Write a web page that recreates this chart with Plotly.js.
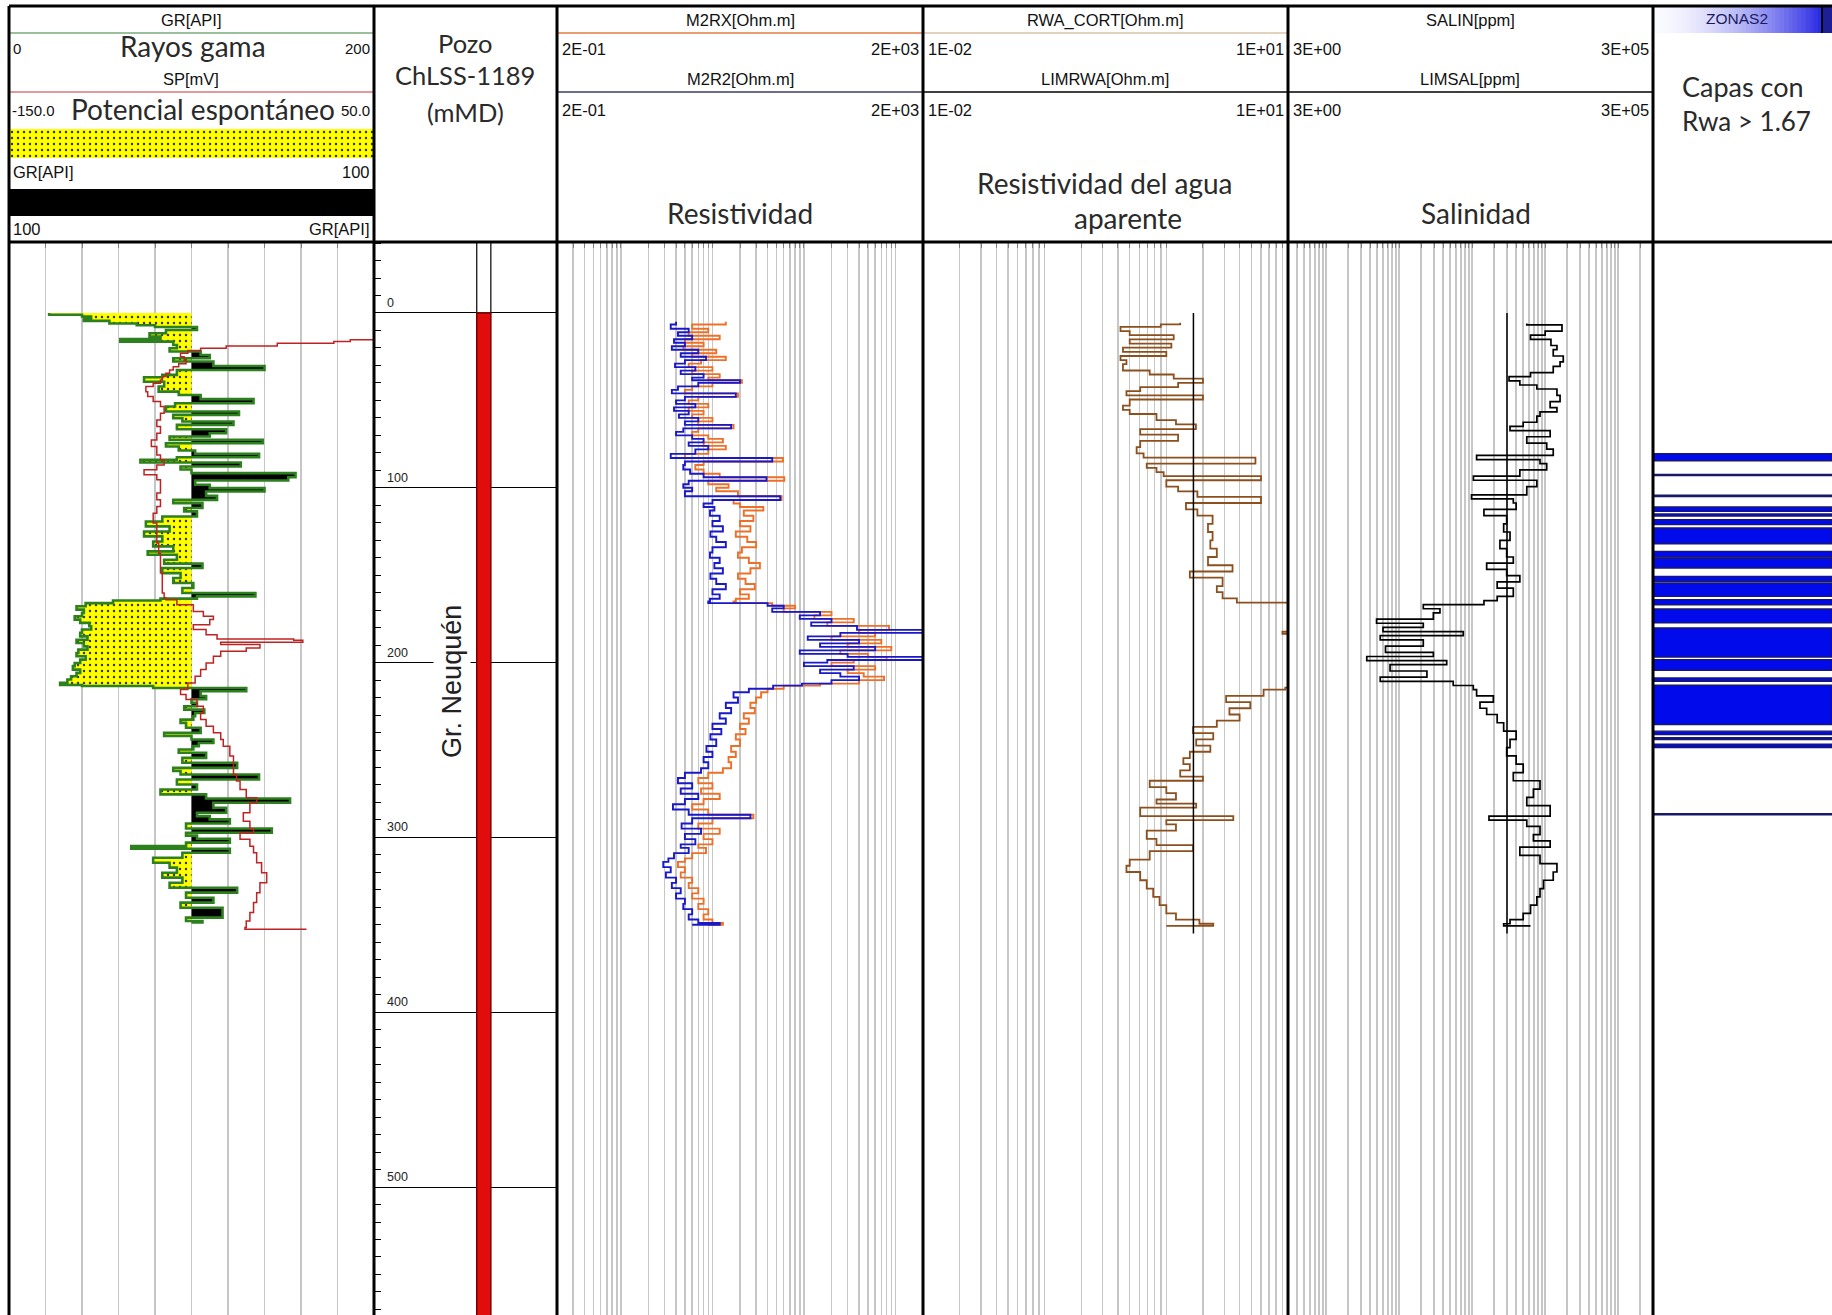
<!DOCTYPE html>
<html><head><meta charset="utf-8">
<script src="https://cdn.plot.ly/plotly-3.0.1.min.js"></script>
<style>html,body{margin:0;padding:0;background:#fff;}#chart{width:1832px;height:1315px;}</style>
</head><body><div id="chart"></div>
<script>
// ---------------- DATA ----------------
// GR [API] : [depth mMD, value]
const grLog = [[0,22],[1,40],[2,45],[3,41],[4.5,55],[6,70],[7,80],[8,103],[9.7,86],[11.6,77],[13.5,83],[14.9,61],[16.4,90],[18.3,92],[20.2,88],[22,105],[24,110],[25.9,90],[27.8,112],[30.3,140],[32.6,92],[35.4,84],[36.8,74],[39.3,85],[42.1,82],[45,93],[46.9,105],[49.3,134],[51.6,91],[53.5,86],[56.4,126],[58.3,90],[60.2,95],[62.1,123],[64,92],[66.5,119],[68.8,110],[70.7,88],[72.6,139],[74.5,86],[76.4,93],[78.7,102],[80.6,137],[82.5,92],[84,72],[85.5,127],[87.8,94],[89.5,100],[91.6,157],[94,153],[95.8,102],[98.3,110],[100.2,140],[102.1,108],[104.6,114],[106.9,90],[108.8,106],[111.6,96],[113.5,103],[116.4,84],[119.3,75],[122.1,88],[125,74],[127.8,84],[130.7,79],[133.5,90],[136.4,76],[138.3,92],[141.2,85],[143.4,106],[145.9,84],[148.8,94],[151.6,90],[154.5,101],[157.3,95],[160.2,135],[162.1,103],[163.4,83],[164.5,57],[166,42],[167.8,37],[169.7,41],[171.6,40],[173.5,36],[175.4,39],[177.3,44],[179.2,45],[181.1,40],[183,39],[185,43],[186.9,37],[188.8,41],[190.7,43],[192.6,38],[194.5,37],[196.4,42],[198.3,39],[200.2,36],[202,35],[204,39],[205.9,37],[207.8,34],[209.7,32],[211.6,28],[212.8,40],[213.4,79],[214.5,130],[216.4,105],[219.2,108],[221,100],[223,103],[225,96],[226.9,107],[228.8,102],[230.7,101],[232.6,94],[234.5,97],[237.3,105],[240.2,85],[242,100],[244,112],[246,104],[247.8,101],[249.7,93],[251.6,108],[254.5,95],[257.3,125],[260.2,90],[262,94],[264,137],[266.9,92],[269.7,103],[272.6,83],[275.4,108],[277.7,154],[280.2,112],[283,119],[285.9,103],[287.8,110],[289.7,121],[292,97],[294.9,144],[297.3,97],[299,103],[300.8,121],[303,97],[305,67],[306.5,121],[308.8,95],[311.6,79],[314.5,88],[317.3,92],[320.2,84],[323,95],[325.9,88],[328.8,125],[331.6,97],[334.5,112],[337.3,94],[340.2,117],[343,117],[345.9,97],[347.8,106],[348.6,100]];
// SP [mV]
const spLog = [[14.4,52],[15.3,37],[16.3,28],[17.3,-3],[18.9,-31],[20.2,-45],[21.5,-52],[23,-56],[25,-54],[27,-53],[29,-57],[30.7,-60],[32.6,-62],[34.5,-64],[36.4,-66],[38.3,-67],[40.2,-71],[42.1,-75],[45,-74],[47.8,-71],[50.7,-67],[53.5,-65],[57.3,-67],[61.2,-69],[65,-67],[68.8,-69],[72.6,-72],[76.4,-69],[81.2,-67],[84,-65],[86.9,-69],[89.7,-76],[92.6,-69],[95.4,-67],[99.3,-67],[103,-69],[106.9,-67],[110.7,-69],[114.5,-71],[120.2,-69],[125.9,-69],[131.6,-68],[137.4,-67],[143.1,-67],[148.8,-66],[154.5,-66],[160.2,-65],[163.1,-64],[164,-58],[166.9,-49],[170.7,-43.5],[173.5,-38],[175.4,-40],[178.3,-49],[181.1,-42],[184,-36],[186.5,6],[187.2,11],[188.4,-34],[189.7,-12.5],[191.6,-20],[193.5,-34],[196.4,-38],[200.2,-42],[204,-45],[207.8,-48],[211.6,-52],[215.4,-56],[218.3,-53],[221.1,-47],[225,-43.5],[228.8,-45],[232.6,-42],[236.4,-38],[240.2,-34],[244,-32.6],[247.8,-29],[253.5,-27],[259.2,-27],[264,-25.3],[267.8,-23.4],[272.6,-20],[277.3,-14.3],[280.2,-18],[285.9,-21.6],[290.7,-18],[295.4,-16],[297.3,-23.4],[301.1,-18],[305,-16],[308.8,-14.3],[314.5,-11.6],[320.2,-8.8],[325.9,-12.5],[331.6,-14.3],[337.3,-16],[343,-18],[347.8,-20],[351.6,-20.7],[352.6,13]];
// Resistivity [Ohm.m] : [depth, M2RX, M2R2]
const resLog = [[5,14,4.0],[6.6,6,3.5],[9,9,5.5],[11,5.5,4.2],[13,12,6],[15,5,3.8],[17,8,5],[19,4.8,3.6],[21,11,7],[23,6,4.5],[25,14,8.5],[27,7.5,5],[29,5.5,3.9],[31,10,6.5],[33,6,4.5],[35,12,8],[37,9,6],[38.5,21,20],[40,10,7],[42,6,4.2],[44,5,3.6],[46,19,18],[48,7,5],[50,5.5,4],[52,9,6.5],[54,5.5,3.8],[56,8,5.5],[58,6,4.3],[60,10,7],[62,7,5],[64,17,16],[66,7,4.8],[68,6,4],[70,9,6],[72,13,8],[74,8,5.5],[76,14,9],[78,9,6.5],[80.6,5,3.5],[83,59,45],[85,8,5],[87,6.5,4.8],[89.5,8,5.7],[92,12,8],[94,61,39],[96,9,5.5],[98,15,4.8],[100,11,6],[102,19,5],[104.8,57,55],[107,17,10],[109,20,8],[111,36,10.5],[113,22,9.4],[116,28,12],[119,20,10],[122,26,13],[125,18,9.5],[128,24,11],[131,30,14],[134,21,10],[137,19,9.4],[140,25,12],[143,33,10.5],[146,26,13],[149,19,9.5],[152,23,11],[155,29,14],[158,20,10],[161,25,12],[163.5,18,9.4],[165,17,9],[166,45,40],[167.5,80,60],[169,60,45],[171,200,150],[173,130,90],[175,350,200],[177,180,120],[179,850,380],[181.3,400,3000],[183,600,250],[185,200,110],[187,700,400],[189,300,150],[191,900,600],[193,250,90],[195,500,300],[196.7,800,3000],[198.5,350,180],[200,200,100],[202,600,350],[204,300,150],[206,450,250],[208,750,400],[210,400,200],[212,150,95],[213.2,60,46],[215,40,25],[217,34,17],[220,30,19],[223,26,14],[226,29,16],[229,22,12],[232,25,14],[235,20,10],[238,23,12.5],[241,18,9.5],[244,20,11],[247.7,16,8.6],[251,18,10],[254,15,8],[257,16,9],[260.4,13,7.5],[263,9,5],[266,7,4.2],[269,10,6],[272,7.5,4.5],[275,12,7],[278,8,5],[281,6,3.7],[284,9,5.5],[287,28,26],[289,10,6],[292,7,4.6],[295,12,7.5],[298,8,5],[301,10,6.5],[304,7,4.5],[306,8.5,5.5],[309,6,3.8],[312,5,3.3],[314,4.2,2.9],[317,5,3.5],[320,4.5,3.1],[323,6,4],[326,5.5,3.6],[329,7,4.5],[332,6,4],[335,8,5],[338,7,4.8],[341,9,6],[344,8,5.5],[347,10,7],[349,13,12],[350,9,6]];
// RWA_CORT [Ohm.m]
const rwaLog = [[5.6,1.3],[6.5,0.9],[8,0.42],[10.4,0.5],[12.7,1.15],[15.1,0.5],[17.5,1.1],[19.8,0.44],[22.2,1.0],[24.6,0.42],[27,0.47],[29.3,0.44],[32.9,0.73],[35.2,1.15],[37.6,2.0],[40,1.25],[42.4,0.61],[44.7,0.47],[47.1,2.0],[49.5,0.5],[53,0.44],[55.4,0.5],[57.8,0.83],[61.3,1.2],[63.7,1.75],[66.5,0.61],[69.6,1.25],[73.2,0.61],[76.7,0.57],[80.3,0.65],[82.7,5.4],[86.2,0.69],[88.6,0.83],[91,0.95],[93.3,6.0],[95.7,1.0],[99.3,1.25],[102.1,1.8],[105.2,6.0],[108.7,1.45],[112.3,1.8],[115.9,2.4],[120.6,2.2],[125.3,2.4],[130.1,2.3],[134.8,2.6],[139.6,2.2],[144.3,3.5],[147.9,1.56],[151.4,2.9],[156.2,2.6],[159.7,2.9],[163.3,3.8],[165.7,10.5],[168,30],[180,30],[182.3,9],[183.5,30],[200,30],[212,30],[214.3,9.5],[215.5,6.3],[219,3.1],[222.6,4.9],[226.1,3.3],[229.7,4.0],[233.2,2.6],[236.8,1.66],[240.3,2.43],[243.9,1.76],[247.5,2.3],[251,1.56],[254.6,1.38],[258.1,1.56],[261.7,1.3],[265.2,2.0],[267.6,0.73],[271.2,1.0],[274.7,1.2],[278.3,0.83],[280.7,1.76],[283,0.61],[287.8,3.55],[290.1,1.0],[292.5,1.2],[296.1,0.69],[300.8,0.83],[304.4,1.66],[307.9,0.73],[312.7,0.5],[316.2,0.47],[319.8,0.61],[324.5,0.69],[329.3,0.78],[334,0.88],[338.7,1.0],[343.5,1.2],[347,1.87],[349.4,2.43],[350.6,1.0]];
const limRwaDepth = [0, 355];
const limRwa = [1.67, 1.67];
// SALIN [ppm]
const salLog = [[6,5600],[6.8,17000],[8,17000],[10.4,10000],[12.7,6300],[15.1,12000],[18.6,14500],[21,12900],[24.6,17700],[28,16000],[30.5,12900],[34.1,6300],[36.4,3200],[38.8,4500],[41.2,7700],[43.5,14500],[47.1,16000],[50.7,11700],[54.2,14500],[56.6,8500],[59,7700],[62.5,5000],[64.9,3300],[67.3,11700],[70.8,5600],[74.4,10500],[77.9,12900],[81.5,1150],[83.9,8500],[86.2,10500],[89.8,4500],[93.3,1040],[95.7,7700],[99.3,5600],[104,980],[106.4,3660],[108.7,4000],[112.3,1450],[115.9,2970],[120.6,2700],[125.3,3300],[130.1,2400],[134.8,2970],[139.6,3660],[143.1,1580],[146.7,2970],[150.2,4500],[153.8,2200],[157.4,3660],[162.1,2200],[164.5,1450],[166.8,214],[169.2,362],[171.6,294],[175.1,49],[177.5,214],[179.9,60],[182.3,755],[184.6,55],[187,214],[190.6,65],[194.1,294],[196.5,36],[198.9,448],[201.2,75],[204.8,240],[208.3,55],[210.7,550],[213.1,1036],[215.5,1150],[219,1950],[222.6,1280],[226.1,1580],[229.7,2200],[234.4,2700],[239.2,4000],[243.9,3300],[248.6,2970],[253.4,4000],[258.1,5000],[262.9,3660],[267.6,8500],[272.4,6900],[277.1,5600],[281.8,11700],[287.8,1700],[290.1,5600],[293.7,8500],[298.4,6900],[302,11700],[305.6,4500],[310.3,8500],[315,14500],[319.8,12900],[324.5,9500],[329.3,8500],[334,7700],[338.7,6300],[343.5,5000],[347,3300],[349.4,2700],[350.6,6300]];
const limSalDepth = [0, 355];
const limSal = [3000, 3000];
// ZONAS2 (Rwa > 1.67) layers
const zoneTop  = [80.5,92.3,104.3,111,115,118.3,123,136.4,140.2,150.7,154.5,164,169.3,180.2,198.3,208.8,213,239.2,243,246.7,286.4];
const zoneBase = [84.5,93,105,113.5,116.2,121.1,132,139.6,145.9,153.5,162.1,166.9,177.3,196.8,204.4,210.7,235.4,241.1,244,248.6,287];
// Formation column
const formationName = ['Gr. Neuquén'];
const formationTop = [0];
const formationBase = [600];
const depthTicks = [0,100,200,300,400,500];
const grCutoff = 100;

// ---------------- LAYOUT HELPERS ----------------
const W=1832,H=1315;
const X=p=>p/W, Y=p=>1-p/H;
const TOP=242;
const yDom=[0,Y(TOP)];
const depthRange=[573.2,-40.6];
const TR=[[9,374],[374,557],[557,923],[923,1288],[1288,1653],[1653,1832]];
const SMALL='Liberation Sans, Arial, sans-serif';
const BIG='Lato, Open Sans, sans-serif';
const STEP='vh';

const gridX = (i, extra)=>Object.assign({domain:[X(TR[i][0]),X(TR[i][1])], anchor:'y'+(i===0?'':(i+1)), side:'top',
  showgrid:true, gridcolor:'#c6c6c6', gridwidth:1.5, zeroline:false, showticklabels:false,
  ticks:'inside', ticklen:6, tickcolor:'#808080', tickwidth:1, showline:false, fixedrange:true}, extra);
const yAx = (i, extra)=>Object.assign({domain:yDom, range:depthRange, anchor:'x'+(i===0?'':(i+1)), visible:false, fixedrange:true}, extra||{});

const col=(arr,k)=>arr.map(r=>r[k]);
const traces=[];
// ---- Track 1: GR + SP
const grD=col(grLog,0), grV=col(grLog,1);
const cut=grD.map(()=>grCutoff);
const dots={shape:'.', bgcolor:'rgb(255,255,0)', fgcolor:'rgb(50,50,0)', size:6, solidity:0.12};
traces.push({x:cut,y:grD,xaxis:'x',yaxis:'y',mode:'lines',line:{width:0,shape:STEP},hoverinfo:'skip'});
traces.push({x:grV.map(v=>Math.min(v,grCutoff)),y:grD,xaxis:'x',yaxis:'y',mode:'lines',line:{width:0,shape:STEP},fill:'tonextx',fillcolor:'rgb(255,255,0)',fillpattern:dots,hoverinfo:'skip'});
traces.push({x:cut,y:grD,xaxis:'x',yaxis:'y',mode:'lines',line:{width:0,shape:STEP},hoverinfo:'skip'});
traces.push({x:grV.map(v=>Math.max(v,grCutoff)),y:grD,xaxis:'x',yaxis:'y',mode:'lines',line:{width:0,shape:STEP},fill:'tonextx',fillcolor:'black',hoverinfo:'skip'});
traces.push({x:grV,y:grD,xaxis:'x',yaxis:'y',mode:'lines',line:{color:'rgb(45,128,30)',width:2.6,shape:STEP},name:'GR'});
traces.push({x:col(spLog,1),y:col(spLog,0),xaxis:'x7',yaxis:'y',mode:'lines',line:{color:'rgb(190,35,35)',width:1.5,shape:STEP},name:'SP'});
// header yellow band (same fill style)
traces.push({x:[0,1,1,0,0],y:[0,0,1,1,0],xaxis:'x8',yaxis:'y8',mode:'lines',line:{width:0},fill:'toself',fillcolor:'rgb(255,255,0)',fillpattern:dots,hoverinfo:'skip'});
// ---- Track 2: well column
traces.push({type:'bar',x:[0.6],base:[depthRange[1]],y:[formationTop[0]-depthRange[1]],width:[0.077],xaxis:'x2',yaxis:'y2',marker:{color:'white',line:{color:'black',width:1.2}},hoverinfo:'skip'});
traces.push({type:'bar',x:formationTop.map(()=>0.6),base:formationTop,y:formationBase.map((b,i)=>b-formationTop[i]),width:formationTop.map(()=>0.077),xaxis:'x2',yaxis:'y2',marker:{color:'rgb(225,12,12)',line:{color:'rgb(120,0,0)',width:1.5}},name:formationName[0]});
// ---- Track 3: resistivity
traces.push({x:col(resLog,1),y:col(resLog,0),xaxis:'x3',yaxis:'y3',mode:'lines',line:{color:'rgb(238,112,40)',width:1.9,shape:STEP},name:'M2RX'});
traces.push({x:col(resLog,2),y:col(resLog,0),xaxis:'x3',yaxis:'y3',mode:'lines',line:{color:'rgb(25,25,200)',width:1.9,shape:STEP},name:'M2R2'});
// ---- Track 4: RWA
traces.push({x:col(rwaLog,1),y:col(rwaLog,0),xaxis:'x4',yaxis:'y4',mode:'lines',line:{color:'rgb(140,80,30)',width:1.8,shape:STEP},name:'RWA_CORT'});
traces.push({x:limRwa,y:limRwaDepth,xaxis:'x4',yaxis:'y4',mode:'lines',line:{color:'black',width:1.5},name:'LIMRWA'});
// ---- Track 5: salinity
traces.push({x:col(salLog,1),y:col(salLog,0),xaxis:'x5',yaxis:'y5',mode:'lines',line:{color:'black',width:1.7,shape:STEP},name:'SALIN'});
traces.push({x:limSal,y:limSalDepth,xaxis:'x5',yaxis:'y5',mode:'lines',line:{color:'black',width:1.5},name:'LIMSAL'});
// ---- Track 6: zones
traces.push({type:'bar',x:zoneTop.map(()=>0.5),base:zoneTop,y:zoneBase.map((b,i)=>b-zoneTop[i]),width:zoneTop.map(()=>1),xaxis:'x6',yaxis:'y6',marker:{color:'rgb(0,10,235)',line:{color:'rgb(25,25,105)',width:1.4}},name:'ZONAS2'});

// ---------------- SHAPES / ANNOTATIONS ----------------
const shapes=[], ann=[];
const ln=(x0,y0,x1,y1,c,w)=>shapes.push({type:'line',xref:'paper',yref:'paper',x0:X(x0),y0:Y(y0),x1:X(x1),y1:Y(y1),line:{color:c,width:w}});
const rc=(x0,y0,x1,y1,f)=>shapes.push({type:'rect',xref:'paper',yref:'paper',x0:X(x0),y0:Y(y0),x1:X(x1),y1:Y(y1),fillcolor:f,line:{width:0}});
const tx=(x,y,s,o)=>{o=o||{};ann.push({xref:'paper',yref:'paper',x:X(x),y:Y(y),text:s,showarrow:false,xanchor:o.a||'center',yanchor:'middle',font:{family:o.f||SMALL,size:o.s||16.5,color:o.c||'#111'}});};

// ZONAS2 header gradient
const N=40, gx0=1653, gx1=1822;
for(let i=0;i<N;i++){
  const t=Math.pow((i+0.5)/N,1.7);
  const c=[250+(40-250)*t, 250+(40-250)*t, 255+(228-255)*t].map(Math.round);
  rc(gx0+(gx1-gx0)*i/N, 6, gx0+(gx1-gx0)*(i+1)/N+0.6, 33, `rgb(${c[0]},${c[1]},${c[2]})`);
}
rc(1822,6,1832,33,'rgb(30,30,150)');
// black GR>100 header band
rc(9,189,374,216,'black');
// header row separators
ln(9,33,374,33,'rgb(120,170,120)',1.5);
ln(9,92,374,92,'rgb(215,120,120)',1.5);
ln(557,33,923,33,'rgb(230,125,65)',1.5);
ln(557,92,923,92,'rgb(60,60,100)',1.5);
ln(923,33,1288,33,'rgb(200,165,125)',1.2);
ln(923,92,1288,92,'black',1.5);
ln(1288,92,1653,92,'black',1.5);
// frame
ln(9,6,W,6,'black',3);
ln(9,TOP,W,TOP,'black',3);
[9,374,557,923,1288,1653].forEach(x=>ln(x,6,x,H,'black',3));
ln(1822,6,1822,33,'black',2);

// header texts
tx(191,20,'GR[API]');
tx(11,48,'0',{a:'left',s:15}); tx(372,48,'200',{a:'right',s:15});
tx(193,46,'Rayos gama',{f:BIG,s:28,c:'#2a2a2a'});
tx(191,79,'SP[mV]');
tx(10,111,'-150.0',{a:'left',s:15}); tx(372,111,'50.0',{a:'right',s:15});
tx(203,109,'Potencial espontáneo',{f:BIG,s:28,c:'#2a2a2a'});
tx(11,172,'GR[API]',{a:'left'}); tx(372,172,'100',{a:'right'});
tx(11,229,'100',{a:'left'}); tx(372,229,'GR[API]',{a:'right'});
tx(465,43,'Pozo',{f:BIG,s:25.5,c:'#2a2a2a'});
tx(465,75,'ChLSS-1189',{f:BIG,s:25.5,c:'#2a2a2a'});
tx(465,112,'(mMD)',{f:BIG,s:25.5,c:'#2a2a2a'});
tx(740,20,'M2RX[Ohm.m]');
tx(560,49,'2E-01',{a:'left'}); tx(921,49,'2E+03',{a:'right'});
tx(740,79,'M2R2[Ohm.m]');
tx(560,110,'2E-01',{a:'left'}); tx(921,110,'2E+03',{a:'right'});
tx(740,213,'Resistividad',{f:BIG,s:28,c:'#2a2a2a'});
tx(1105,20,'RWA_CORT[Ohm.m]');
tx(926,49,'1E-02',{a:'left'}); tx(1286,49,'1E+01',{a:'right'});
tx(1105,79,'LIMRWA[Ohm.m]');
tx(926,110,'1E-02',{a:'left'}); tx(1286,110,'1E+01',{a:'right'});
tx(1105,183,'Resistividad del agua',{f:BIG,s:28,c:'#2a2a2a'});
tx(1128,218,'aparente',{f:BIG,s:28,c:'#2a2a2a'});
tx(1470,20,'SALIN[ppm]');
tx(1291,49,'3E+00',{a:'left'}); tx(1651,49,'3E+05',{a:'right'});
tx(1470,79,'LIMSAL[ppm]');
tx(1291,110,'3E+00',{a:'left'}); tx(1651,110,'3E+05',{a:'right'});
tx(1476,213,'Salinidad',{f:BIG,s:28,c:'#2a2a2a'});
tx(1737,19,'ZONAS2',{c:'#1a1a60',s:15.5});
tx(1680,86,'Capas con',{a:'left',f:BIG,s:27,c:'#2a2a2a'});
tx(1680,121,'Rwa &gt; 1.67',{a:'left',f:BIG,s:26,c:'#2a2a2a'});

// depth labels
depthTicks.forEach(d=>ann.push({xref:'x2',yref:'y2',x:0.06,y:d,text:String(d),showarrow:false,xanchor:'left',yanchor:'bottom',yshift:1,font:{family:SMALL,size:12.5,color:'#222'}}));
// formation name
ann.push({xref:'x2',yref:'y2',x:0.426,y:210.5,text:formationName[0],textangle:-90,showarrow:false,bgcolor:'white',borderpad:3,font:{family:SMALL,size:27,color:'#222'}});

const layout={
  width:W,height:H,margin:{l:0,r:0,t:0,b:0},paper_bgcolor:'white',plot_bgcolor:'white',showlegend:false,barmode:'overlay',
  font:{family:SMALL},
  xaxis:gridX(0,{range:[0,200],dtick:20,tick0:0}),
  yaxis:yAx(0),
  xaxis2:{domain:[X(TR[1][0]),X(TR[1][1])],anchor:'y2',range:[0,1],visible:false,fixedrange:true},
  yaxis2:yAx(1,{visible:true,showgrid:true,gridcolor:'black',gridwidth:1,dtick:100,tick0:0,ticks:'inside',ticklen:10,tickcolor:'black',tickwidth:1,
    minor:{dtick:10,ticks:'inside',ticklen:7,tickcolor:'black',tickwidth:1,showgrid:false},showticklabels:false,zeroline:false,showline:false,side:'left'}),
  xaxis3:gridX(2,{type:'log',range:[Math.log10(0.2),Math.log10(2000)],dtick:'D1'}),
  yaxis3:yAx(2),
  xaxis4:gridX(3,{type:'log',range:[-2,1],dtick:'D1'}),
  yaxis4:yAx(3),
  xaxis5:gridX(4,{type:'log',range:[Math.log10(3),Math.log10(3e5)],dtick:'D1'}),
  yaxis5:yAx(4),
  xaxis6:{domain:[X(TR[5][0]),X(TR[5][1])],anchor:'y6',range:[0,1],visible:false,fixedrange:true},
  yaxis6:yAx(5),
  xaxis7:{overlaying:'x',anchor:'y',range:[-150,50],visible:false,fixedrange:true},
  xaxis8:{domain:[X(9),X(374)],anchor:'y8',range:[0,1],visible:false,fixedrange:true},
  yaxis8:{domain:[Y(158),Y(129)],anchor:'x8',range:[0,1],visible:false,fixedrange:true},
  shapes:shapes,annotations:ann
};
Plotly.newPlot('chart',traces,layout,{staticPlot:true,displayModeBar:false});
</script></body></html>
